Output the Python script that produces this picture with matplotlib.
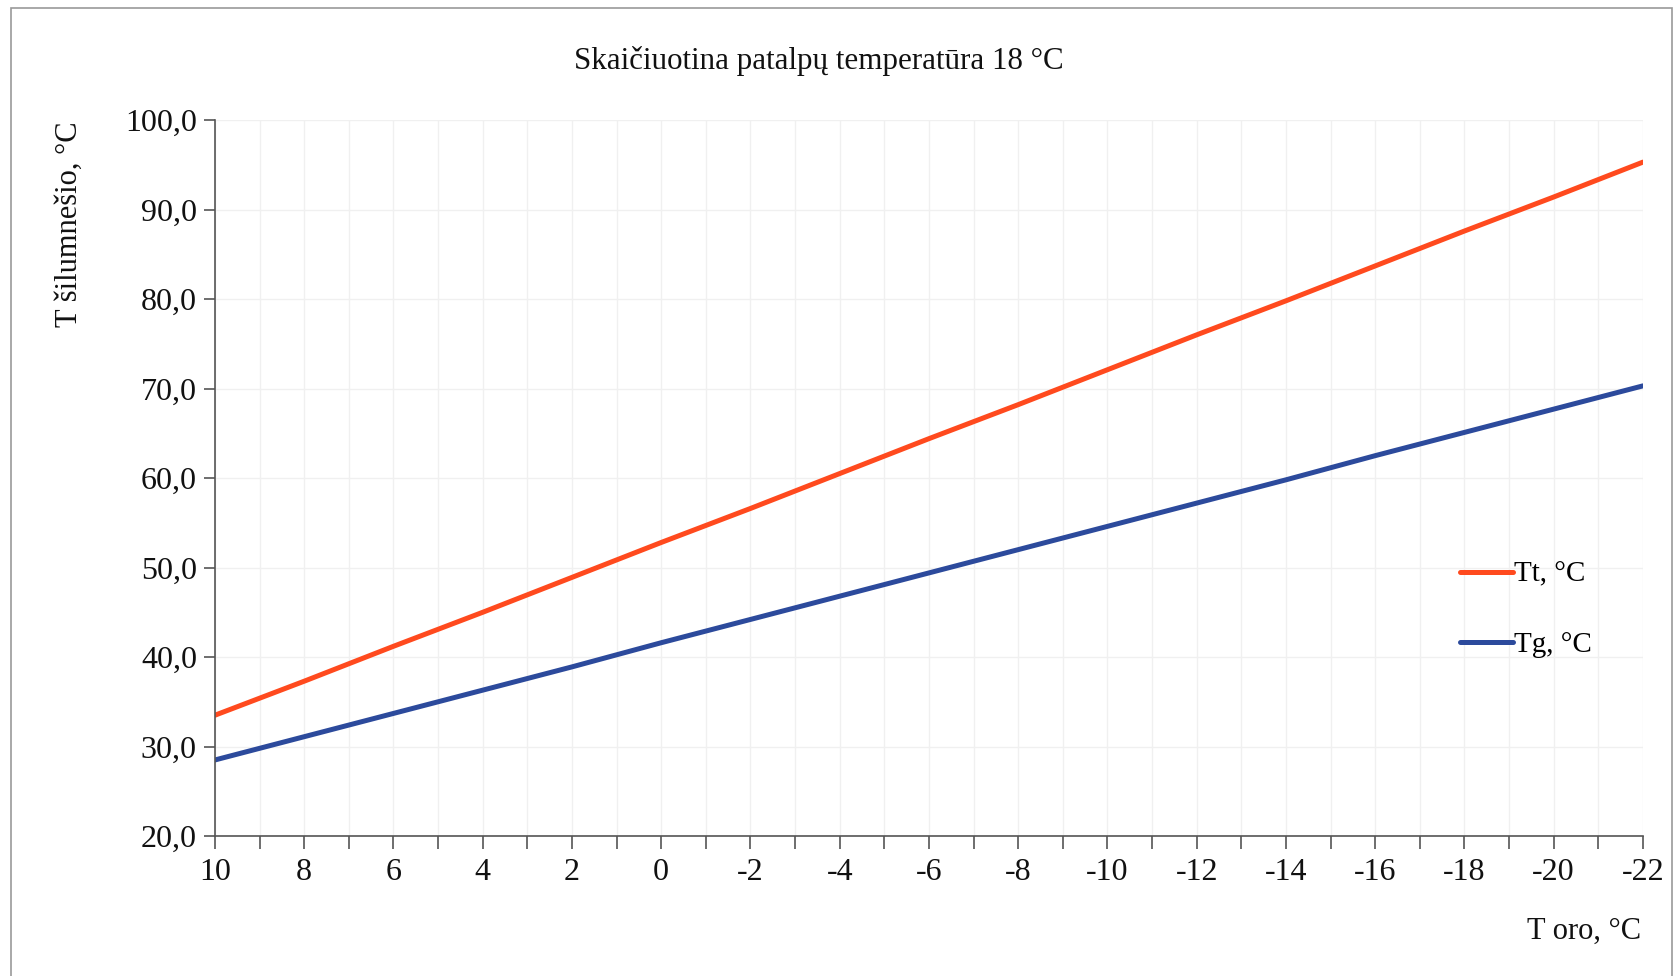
import matplotlib
matplotlib.use("Agg")
import matplotlib.pyplot as plt
from matplotlib.ticker import FuncFormatter, MultipleLocator
from matplotlib.patches import Rectangle

plt.rcParams['font.family'] = ['Liberation Serif', 'DejaVu Serif']
plt.rcParams['axes.unicode_minus'] = False

# outdoor temperature, supply (Tt) and return (Tg) water temperature
t_oro = [10, 8, 6, 4, 2, 0, -2, -4, -6, -8, -10, -12, -14, -16, -18, -20, -22]
tt = [33.5, 37.3, 41.2, 45.0, 48.9, 52.8, 56.6, 60.5, 64.4, 68.2, 72.1,
      76.0, 79.8, 83.7, 87.6, 91.4, 95.3]
tg = [28.5, 31.1, 33.7, 36.3, 38.9, 41.6, 44.2, 46.8, 49.4, 52.0, 54.6,
      57.2, 59.8, 62.5, 65.1, 67.7, 70.3]

title = "Skaičiuotina patalpų temperatūra 18 °C"
ylabel = "T šilumnešio, °C"
xlabel = "T oro, °C"

fig = plt.figure(figsize=(16.78, 9.76), dpi=100)
ax = fig.add_axes([0.1281, 0.1434, 0.851, 0.7336])

ax.plot(t_oro, tt, color="#ff4a1e", lw=3.6, label="Tt, °C", solid_capstyle="round")
ax.plot(t_oro, tg, color="#2c4a9c", lw=3.6, label="Tg, °C", solid_capstyle="round")

ax.set_xlim(10, -22)
ax.set_ylim(20, 100)
ax.xaxis.set_major_locator(MultipleLocator(2))
ax.xaxis.set_minor_locator(MultipleLocator(1))
ax.yaxis.set_major_locator(MultipleLocator(10))
ax.yaxis.set_major_formatter(FuncFormatter(lambda v, p: f"{v:.1f}".replace(".", ",")))
ax.xaxis.set_major_formatter(FuncFormatter(lambda v, p: f"{v:.0f}"))

ax.grid(True, which="both", axis="x", color="#f0f0f0", lw=1)
ax.grid(True, which="major", axis="y", color="#f0f0f0", lw=1)
ax.set_axisbelow(True)

for s in ["top", "right"]:
    ax.spines[s].set_visible(False)
for s in ["left", "bottom"]:
    ax.spines[s].set_color("#555555")
    ax.spines[s].set_linewidth(1.2)

ax.tick_params(axis="both", which="both", colors="#555555", labelcolor="#111111",
               labelsize=23)
ax.tick_params(axis="x", which="both", length=9, width=1.2, pad=7)
ax.tick_params(axis="y", length=8, width=1.2, pad=5)

fig.text(0.488, 0.937, title, ha="center", va="center", fontsize=22.3, color="#111111")
fig.text(0.0415, 0.876, ylabel, ha="center", va="top", rotation=90,
         fontsize=22, color="#111111")
fig.text(0.978, 0.046, xlabel, ha="right", va="center", fontsize=22,
         color="#111111")

leg = ax.legend(loc="upper left", bbox_to_anchor=(0.864, 0.40), frameon=False,
                fontsize=21, handlelength=1.8, handletextpad=0.05,
                labelspacing=1.5, borderaxespad=0)

# thin frame around the chart area
fig.add_artist(Rectangle((0.0066, -0.05), 0.99, 1.042, transform=fig.transFigure,
                         fill=False, edgecolor="#999999", lw=1.2))

fig.savefig("out.png", dpi=100)
